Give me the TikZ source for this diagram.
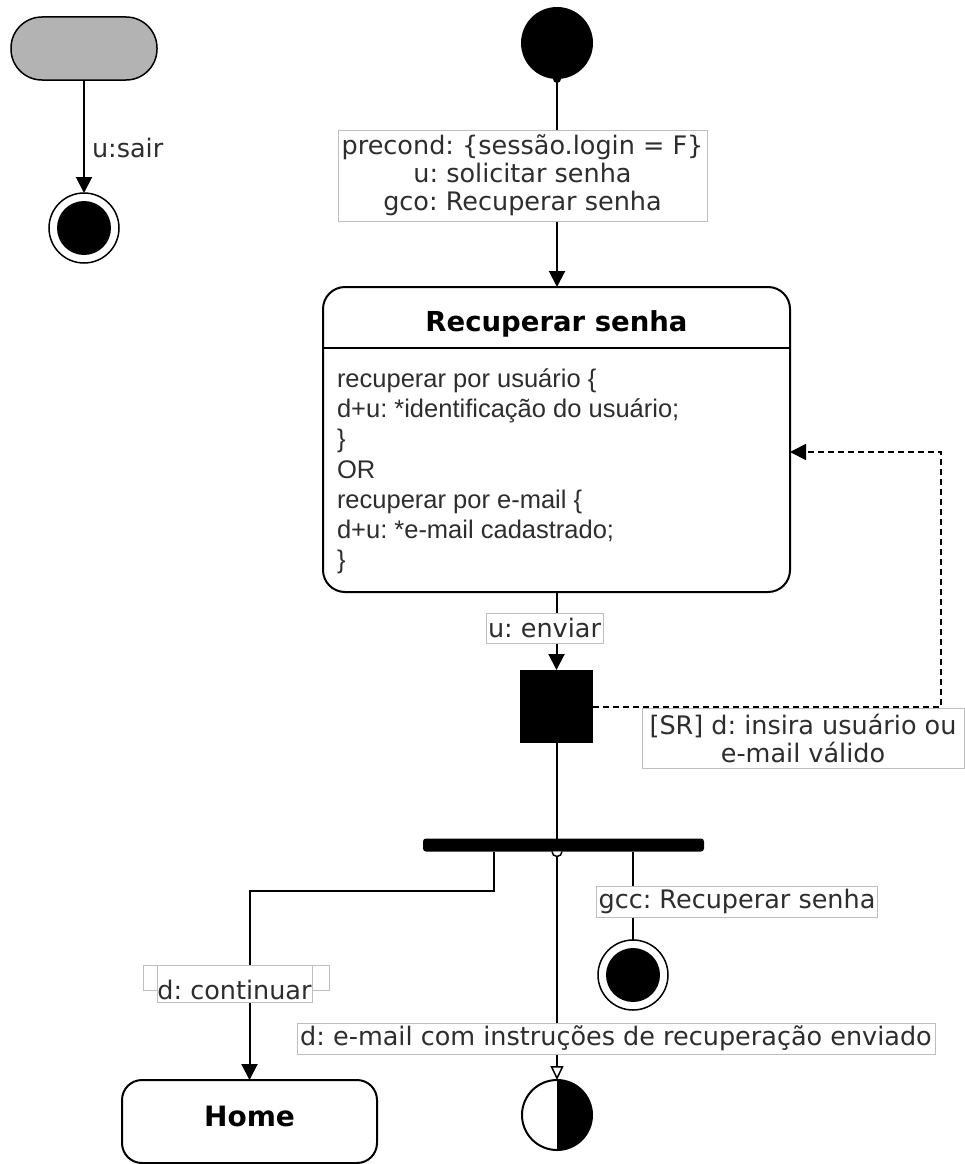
\documentclass[tikz,border=0pt]{standalone}
\usepackage{fontspec}
\setmainfont{DejaVu Sans}
\newfontfamily\bodyfont{Liberation Sans}
\usetikzlibrary{arrows.meta}
\definecolor{termgray}{RGB}{179,179,179}
\definecolor{lblborder}{RGB}{190,190,190}
\definecolor{lbltext}{RGB}{45,45,45}
\frenchspacing

\begin{document}
\begin{tikzpicture}[x=1pt,y=-1pt,line width=2pt,
  every node/.style={outer sep=0pt},
  flow/.style={draw=black,line width=2pt,-{Triangle[length=16pt,width=16pt]}},
  plainflow/.style={draw=black,line width=2pt},
  lblfont/.style={font=\fontsize{25.5}{28}\selectfont,text=lbltext},
  lbl/.style={lblfont,draw=lblborder,line width=1pt,fill=white,inner sep=2pt,align=center},
  body/.style={font=\bodyfont\fontsize{25.5}{30}\selectfont,text=lbltext,inner sep=0pt,anchor=base west},
  finalstate/.style={circle,draw,fill=white,line width=1.5pt,minimum size=70pt,inner sep=0pt,
    path picture={\fill[black] (path picture bounding box.center) circle[radius=27pt];}},
  halfstate/.style={circle,draw,fill=white,line width=2pt,minimum size=70pt,inner sep=0pt,
    path picture={\fill[black] (path picture bounding box.north) rectangle (path picture bounding box.south east);}}]

\useasboundingbox (0,0) rectangle (965,1164);

% exit branch on the left
\node[draw,fill=termgray,line width=1.5pt,rounded corners=31pt,minimum width=146pt,minimum height=63pt] (term) at (84,48.5) {};
\node[finalstate] (f1) at (84,228) {};
\draw[flow] (term) -- (f1);
\node[lblfont,anchor=west,inner sep=0pt] (sairlbl) at (92,148) {u:sair};

% initial state and entry transition
\node[circle,fill=black,minimum size=72pt,inner sep=0pt] (init) at (557,43) {};
\fill (init.south) circle[radius=4pt];

\node[draw,line width=2pt,rounded corners=22pt,minimum width=467pt,minimum height=305pt] (rs) at (556.5,439.5) {};
\draw[flow] (init.south) -- (init.south |- rs.north);
\node[lbl,minimum width=369pt,minimum height=91pt] (pre) at (522.5,175.5)
  {precond: \{sessão.login = F\}\\u: solicitar senha\\gco: Recuperar senha};

% state "Recuperar senha"
\node[font=\bfseries\fontsize{27.5}{30}\selectfont,anchor=base,inner sep=0pt] (rstitle) at (556.5,331) {Recuperar senha};
\coordinate (sep) at (0,348);
\draw[line width=2pt] (rs.west |- sep) -- (rs.east |- sep);
\node[body] (b1) at (337,387) {recuperar por usuário \{};
\node[body] (b2) at (337,417) {d+u: *identificação do usuário;};
\node[body] (b3) at (337,447) {\}};
\node[body] (b4) at (337,478) {OR};
\node[body] (b5) at (337,508) {recuperar por e-mail \{};
\node[body] (b6) at (337,538) {d+u: *e-mail cadastrado;};
\node[body] (b7) at (337,568) {\}};

% choice square
\node[fill=black,minimum size=73pt,inner sep=0pt] (sq) at (556.5,706.5) {};
\draw[flow] (rs.south) -- (sq.north);
\node[lbl,minimum width=117pt,minimum height=30pt] (env) at (544.5,628) {u: enviar};

% invalid input loops back
\coordinate (dc1) at (941,707);
\coordinate (dc2) at (941,452);
\draw[flow,line width=1.8pt,dash pattern=on 6pt off 4pt] (sq.east |- dc1) -- (dc1) -- (dc2) -- (rs.east |- dc2);
\node[lbl,minimum width=322pt,minimum height=60pt] (sr) at (803,738) {[SR] d: insira usuário ou\\e-mail válido};

% fork bar
\node[fill=black,rounded corners=3pt,minimum width=281pt,minimum height=13pt,inner sep=0pt] (bar) at (563.5,845) {};
\draw[plainflow] (sq.south) -- (sq.south |- bar.north);

% Home
\node[draw,line width=2pt,rounded corners=20pt,minimum width=255pt,minimum height=83pt,
  font=\bfseries\fontsize{28}{30}\selectfont,text depth=10pt] (home) at (249.5,1121.5) {Home};
\coordinate (bl) at (494,851.5);
\coordinate (bend) at (494,891);
\draw[flow] (bl) -- (bend) -| (home.north);
\node[draw=lblborder,line width=1pt,fill=white,minimum width=186pt,minimum height=25pt] (contback) at (236,977.5) {};
\node[draw=lblborder,line width=1pt,fill=white,minimum width=155pt,minimum height=37pt] (contbox) at (234.5,983.5) {};
\node[lblfont,anchor=base,inner sep=0pt] (cont) at (234.5,999) {d: continuar};

% e-mail sent
\node[halfstate] (half) at (557,1115) {};
\coordinate (jb) at (557,857);
\draw[line width=1.5pt,fill=white] (552,851.5) arc[start angle=180,end angle=0,radius=5];
\draw[line width=2pt,-{Triangle[length=14pt,width=13pt,fill=white,line width=1.5pt]}] (jb) -- (half.north);
\node[lbl,minimum width=638pt,minimum height=31pt] (mail) at (616,1038.5) {d: e-mail com instruções de recuperação enviado};

% completion
\node[finalstate] (f2) at (633,975) {};
\coordinate (br) at (633,851.5);
\draw[plainflow] (br) -- (f2.north);
\node[lbl,minimum width=280pt,minimum height=31pt] (gcc) at (737,901.5) {gcc: Recuperar senha};

\end{tikzpicture}
\end{document}
